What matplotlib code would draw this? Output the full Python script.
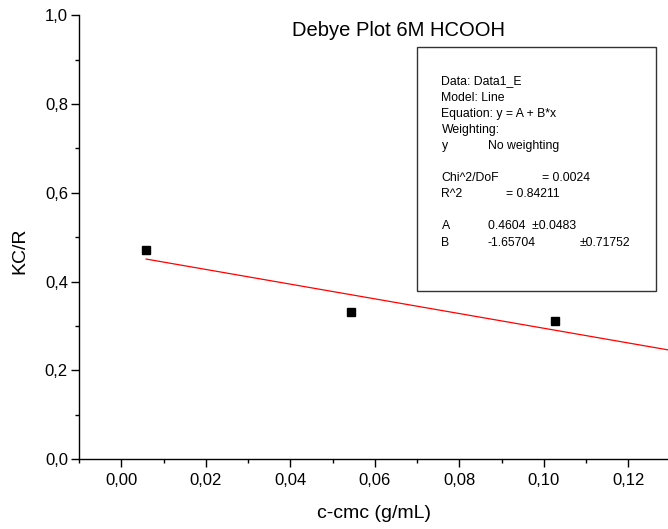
#!/usr/bin/env python3
"""Debye plot for 6M HCOOH with linear fit and Origin-style fit report box."""

import matplotlib
matplotlib.use("Agg")
import matplotlib.pyplot as plt
from matplotlib.patches import Rectangle
from matplotlib.ticker import FuncFormatter, MultipleLocator

plt.rcParams["font.family"] = ["Liberation Sans", "DejaVu Sans"]

W, H = 668, 529

# measured data (c - cmc in g/mL, KC/R)
c_cmc = [0.0059, 0.0544, 0.1027]
kc_r = [0.471, 0.332, 0.311]

# linear fit y = A + B*x as reported
fit_a = 0.4604
fit_b = -1.65704

x_ticks = [0.00, 0.02, 0.04, 0.06, 0.08, 0.10, 0.12]
y_ticks = [0.0, 0.2, 0.4, 0.6, 0.8, 1.0]

report_lines = [
    ("Data: Data1_E", None, None),
    ("Model: Line", None, None),
    ("Equation: y = A + B*x", None, None),
    ("Weighting:", None, None),
    ("y", "No weighting", None),
    ("", None, None),
    ("Chi^2/DoF", None, "= 0.0024"),
    ("R^2", "= 0.84211", None),
    ("", None, None),
    ("A", "0.4604  \u00b10.0483", None),
    ("B", "-1.65704", "\u00b10.71752"),
]


def px(x, y):
    return x / W, 1 - y / H


def comma(v, _pos, digits):
    return f"{v:.{digits}f}".replace(".", ",")


fig = plt.figure(figsize=(W / 100, H / 100), dpi=100)
ax = fig.add_axes([79 / W, 1 - 459 / H, 591.5 / W, 443.7 / H])

ax.plot(c_cmc, kc_r, linestyle="none", marker="s", markersize=5.2,
        color="black")

line_x = [c_cmc[0], 0.13]
line_y = [fit_a + fit_b * v for v in line_x]
ax.plot(line_x, line_y, color="red", linewidth=0.9)

ax.set_xlim(-0.01, 0.13)
ax.set_ylim(0, 1.0)
ax.set_xticks(x_ticks)
ax.set_yticks(y_ticks)
ax.xaxis.set_minor_locator(MultipleLocator(0.01))
ax.yaxis.set_minor_locator(MultipleLocator(0.1))
ax.xaxis.set_major_formatter(FuncFormatter(lambda v, p: comma(v, p, 2)))
ax.yaxis.set_major_formatter(FuncFormatter(lambda v, p: comma(v, p, 1)))

ax.spines["top"].set_visible(False)
ax.spines["right"].set_visible(False)
for side in ("left", "bottom"):
    ax.spines[side].set_linewidth(1.0)

ax.tick_params(which="major", direction="out", length=5.5, width=1.0,
               labelsize=12)
ax.tick_params(which="minor", direction="out", length=3, width=1.0)
ax.tick_params(axis="x", which="major", pad=4.5)
ax.tick_params(axis="y", which="major", pad=2.5)

fig.text(*px(374, 514), "c-cmc (g/mL)", fontsize=14, ha="center",
         va="center")
fig.text(*px(19.5, 251), "KC/R", fontsize=14, rotation=90, ha="center",
         va="center")
fig.text(*px(398, 31), "Debye Plot 6M HCOOH", fontsize=14.5, ha="center",
         va="center")

# fit report box
bx0, by0, bx1, by1 = 417, 47, 656, 291
fig.patches.append(Rectangle(px(bx0, by1), (bx1 - bx0) / W, (by1 - by0) / H,
                             transform=fig.transFigure, facecolor="white",
                             edgecolor="#333333", linewidth=1.0))

row0, step = 81.5, 16.1
for i, (c0, c1, c2) in enumerate(report_lines):
    yy = row0 + i * step
    if c0:
        fig.text(*px(441.5, yy), c0, fontsize=8.8, va="center")
    if c1:
        xx = 506 if c0 == "R^2" else 488
        fig.text(*px(xx, yy), c1, fontsize=8.8, va="center")
    if c2:
        xx = 542.5 if c0.startswith("Chi") else 580
        fig.text(*px(xx, yy), c2, fontsize=8.8, va="center")

fig.savefig("out.png", dpi=100, facecolor="white")
